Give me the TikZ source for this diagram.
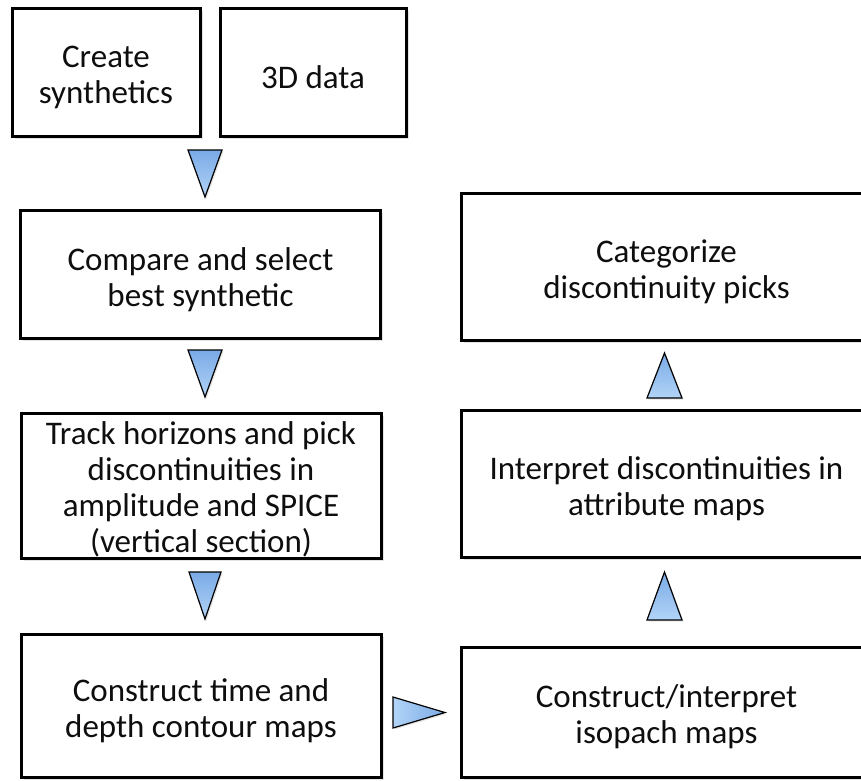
\documentclass[tikz,border=0pt]{standalone}
\usepackage{fontspec}
\setmainfont{Carlito}
\usetikzlibrary{shadows,calc}
\definecolor{ink}{HTML}{0E0E0E}
\definecolor{tridark}{RGB}{122,170,230}
\definecolor{trilight}{RGB}{178,212,247}
\tikzset{
  stepbox/.style={draw=black, line width=3pt, fill=white, inner sep=0pt,
    drop shadow={shadow xshift=2.5pt, shadow yshift=-2.5pt, opacity=0.22}},
  steptext/.style={text=ink, align=center, inner sep=0pt,
    font=\fontsize{33}{36}\selectfont},
  tri/.style={draw=black, line width=1.2pt, line join=miter,
    top color=tridark, bottom color=trilight,
    drop shadow={shadow xshift=1.5pt, shadow yshift=-1.5pt, opacity=0.2}},
  trih/.style={draw=black, line width=1.2pt, line join=miter,
    left color=trilight, right color=tridark,
    drop shadow={shadow xshift=1.5pt, shadow yshift=-1.5pt, opacity=0.2}}
}
\begin{document}
\begin{tikzpicture}[x=1pt, y=-1pt]
  \useasboundingbox (0,0) rectangle (861,780);
  \clip (0,0) rectangle (861,780);
  \fill[white] (0,0) rectangle (861,780);

  % left column
  \node[stepbox, minimum width=188, minimum height=128] (A) at (106,72) {};
  \node[stepbox, minimum width=186, minimum height=128] (B) at (313,72) {};
  \node[stepbox, minimum width=360, minimum height=128] (C) at (200.5,274) {};
  \node[stepbox, minimum width=360, minimum height=145] (D) at (201,485.5) {};
  \node[stepbox, minimum width=360, minimum height=143] (E) at (201,706) {};

  % right column (runs past the right edge)
  \node[stepbox, minimum width=411, minimum height=130] (F) at (666.5,712) {};
  \node[stepbox, minimum width=411, minimum height=147] (G) at (666.5,483.5) {};
  \node[stepbox, minimum width=411, minimum height=147] (H) at (666.5,266.5) {};

  % step labels
  \node[steptext] (At) at ($(A.center)+(0,5)$) {Create\\synthetics};
  \node[steptext] (Bt) at ($(B.center)+(0,5)$) {3D data};
  \node[steptext] (Ct) at ($(C.center)+(0,6)$) {Compare and select\\best synthetic};
  \node[steptext] (Dt) at ($(D.center)+(0,4)$) {Track horizons and pick\\discontinuities in\\amplitude and SPICE\\(vertical section)};
  \node[steptext] (Et) at ($(E.center)+(0,5)$) {Construct time and\\depth contour maps};
  \node[steptext] (Ft) at ($(F.center)+(0,5)$) {Construct/interpret\\isopach maps};
  \node[steptext] (Gt) at ($(G.center)+(0,5)$) {Interpret discontinuities in\\attribute maps};
  \node[steptext] (Ht) at ($(H.center)+(0,5)$) {Categorize\\discontinuity picks};

  % arrow heads between the steps
  \coordinate (t1) at (205,150);
  \coordinate (t2) at (205,350);
  \coordinate (t3) at (205,572);
  \coordinate (t4) at (393,712.5);
  \coordinate (t5) at (664.5,620);
  \coordinate (t6) at (664.5,398);

  \path[tri] ($(t1)+(-17,0)$) -- ($(t1)+(17,0)$) -- ($(t1)+(0,47)$) -- cycle;
  \path[tri] ($(t2)+(-17,0)$) -- ($(t2)+(17,0)$) -- ($(t2)+(0,47)$) -- cycle;
  \path[tri] ($(t3)+(-16,0)$) -- ($(t3)+(16,0)$) -- ($(t3)+(0,47)$) -- cycle;
  \path[trih] ($(t4)+(0,-15.5)$) -- ($(t4)+(52,0)$) -- ($(t4)+(0,15.5)$) -- cycle;
  \path[tri] ($(t5)+(-17.5,0)$) -- ($(t5)+(0,-48)$) -- ($(t5)+(17.5,0)$) -- cycle;
  \path[tri] ($(t6)+(-17.5,0)$) -- ($(t6)+(0,-45)$) -- ($(t6)+(17.5,0)$) -- cycle;
\end{tikzpicture}
\end{document}
